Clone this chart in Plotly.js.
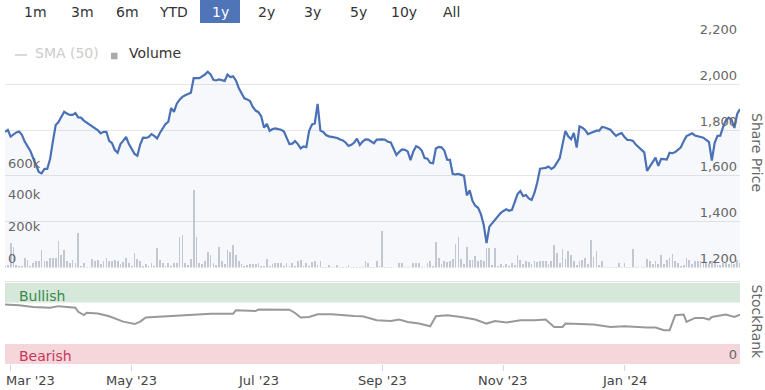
<!DOCTYPE html>
<html>
<head>
<meta charset="utf-8">
<script src="https://cdn.plot.ly/plotly-3.0.1.min.js"></script>
<style>html,body{margin:0;padding:0;background:#fff;}#chart{width:765px;height:390px;}</style>
</head>
<body>
<div id="chart"></div>
<script>
// ---- Data ----
const tradingStart = '2023-02-27';
const tradingEnd = '2024-02-27';

// Daily share price (one value per trading day, Mon-Fri)
const price = [
1793,1801,1772,1781,1790,1794,1780,1750,1731,1709,
1678,1647,1617,1611,1630,1630,1674,1750,1823,1836,
1858,1881,1873,1867,1867,1875,1856,1855,1842,1833,
1826,1818,1810,1799,1786,1793,1793,1753,1743,1713,
1701,1739,1754,1770,1739,1718,1696,1688,1737,1767,
1766,1770,1783,1775,1764,1788,1810,1827,1837,1897,
1880,1916,1934,1946,1953,1960,1964,2028,2028,2028,
2036,2044,2056,2045,2021,2018,2023,2020,2016,2044,
2033,2036,2018,1985,1961,1940,1935,1928,1902,1886,
1879,1860,1811,1827,1797,1805,1808,1806,1802,1795,
1770,1739,1741,1752,1739,1720,1729,1726,1797,1825,
1830,1915,1798,1792,1779,1773,1771,1769,1766,1759,
1755,1745,1731,1736,1746,1763,1735,1750,1760,1759,
1750,1743,1759,1760,1760,1758,1749,1746,1722,1691,
1705,1716,1714,1707,1669,1707,1730,1724,1711,1678,
1675,1657,1655,1720,1727,1725,1711,1671,1670,1608,
1606,1608,1604,1600,1514,1537,1490,1469,1460,1432,
1384,1305,1377,1393,1410,1426,1437,1446,1453,1447,
1451,1485,1520,1533,1511,1516,1501,1494,1525,1571,
1631,1633,1635,1641,1630,1638,1656,1678,1739,1797,
1773,1761,1788,1724,1817,1811,1801,1783,1788,1793,
1798,1798,1814,1812,1808,1802,1788,1775,1783,1787,
1770,1757,1757,1753,1737,1725,1716,1703,1622,1643,
1663,1680,1644,1674,1673,1671,1701,1699,1704,1714,
1725,1752,1774,1780,1786,1777,1773,1770,1767,1757,
1748,1667,1745,1775,1776,1814,1843,1855,1846,1810,
1871,1893
];

// Daily volume, thousands of shares
const volume = [
10,15,154,126,17,8,8,59,48,8,
27,38,42,111,38,38,63,59,63,168,
80,111,38,27,48,27,217,10,27,5,
5,55,38,48,20,42,59,38,42,48,
38,20,34,63,27,10,90,55,38,10,
21,8,27,8,122,48,27,8,27,10,
27,27,189,202,27,15,55,490,189,27,
20,42,97,80,27,15,126,38,20,111,
97,143,76,38,21,10,17,21,21,21,
27,8,8,55,8,21,27,27,27,10,
27,10,27,10,42,48,10,27,10,34,
38,15,42,3,3,17,3,3,17,3,
3,3,17,3,3,3,3,3,38,27,
3,3,38,10,231,3,3,3,3,3,
27,27,3,3,3,27,27,27,5,5,
27,38,10,160,63,20,42,34,38,55,
147,189,55,20,126,48,48,70,38,48,
42,122,122,15,122,8,21,8,21,10,
27,15,80,48,20,38,34,20,38,34,
38,38,42,20,38,139,90,30,118,55,
105,80,38,15,38,48,59,20,175,69,
101,15,38,3,3,3,3,3,27,3,
27,3,3,118,3,3,3,3,55,38,
20,38,20,76,20,48,59,84,38,27,
10,15,63,48,20,38,38,38,42,27,
20,38,38,15,15,27,27,20,38,20,
48,30
];

// StockRank (0-100)
const rankDates = ['2023-02-27','2023-03-06','2023-03-13','2023-03-21','2023-03-24','2023-04-03','2023-04-04','2023-04-06','2023-04-07','2023-04-13','2023-04-19','2023-04-25','2023-04-26','2023-05-02','2023-05-04','2023-05-08','2023-05-17','2023-05-26','2023-06-08','2023-06-20','2023-06-21','2023-06-30','2023-07-03','2023-07-18','2023-07-20','2023-07-24','2023-07-27','2023-08-01','2023-08-08','2023-08-18','2023-08-23','2023-08-30','2023-09-06','2023-09-11','2023-09-14','2023-09-20','2023-09-26','2023-09-28','2023-10-04','2023-10-11','2023-10-18','2023-10-24','2023-10-27','2023-11-02','2023-11-09','2023-11-16','2023-11-22','2023-11-27','2023-11-30','2023-12-01','2023-12-08','2023-12-15','2023-12-25','2024-01-01','2024-01-11','2024-01-16','2024-01-19','2024-01-23','2024-01-25','2024-01-30','2024-01-31','2024-02-05','2024-02-08','2024-02-12','2024-02-13','2024-02-20','2024-02-23','2024-02-27'];
const rankValues = [73,72,70,69,71,69,64,60,63,62,58.5,54,52,49,52,57,58.5,60.6,61.8,61.8,66,65,67,66.7,62.6,57,57.7,61,61,59,58.5,53.7,52.8,54.5,51.6,49.6,46.3,58.5,59.8,57.7,54.5,49.6,52.8,50.9,53.7,53.7,54.5,45.5,45.5,49.6,48.8,48.4,45.5,46.3,44.8,44.8,41.5,41.5,59.8,60.6,51.6,56.5,56.5,54.5,57.7,60.6,57.7,60.6];

const xTickDates = ['2023-03-01','2023-05-01','2023-07-01','2023-09-01','2023-11-01','2024-01-01'];
const xTickLabels = ["Mar '23","May '23","Jul '23","Sep '23","Nov '23","Jan '24"];
const priceTicks = [1200,1400,1600,1800,2000,2200];
const priceTickLabels = ['1,200','1,400','1,600','1,800','2,000','2,200'];
const volumeTicks = [0,200,400,600];
const volumeTickLabels = ['0','200k','400k','600k'];
const rangeButtons = ['1m','3m','6m','YTD','1y','2y','3y','5y','10y','All'];
const activeButton = '1y';
const legendItems = ['SMA (50)','Volume'];

// ---- trading calendar (Mon-Fri) ----
function tradingDays(start, end) {
  const out = [];
  const d = new Date(start + 'T00:00:00Z');
  const e = new Date(end + 'T00:00:00Z');
  while (d <= e) {
    const w = d.getUTCDay();
    if (w !== 0 && w !== 6) out.push(d.toISOString().slice(0, 10));
    d.setUTCDate(d.getUTCDate() + 1);
  }
  return out;
}
const dates = tradingDays(tradingStart, tradingEnd);
if (dates.length !== price.length || dates.length !== volume.length) {
  console.warn('length mismatch', dates.length, price.length, volume.length);
}

// ---- layout helpers (pixel -> paper) ----
const W = 765, H = 390, ML = 5, MR = 25;
const px = v => (v - ML) / (W - ML - MR);
const py = v => 1 - v / H;
const FONT = 'DejaVu Sans';

const traces = [
  {
    type: 'bar', x: dates, y: volume, xaxis: 'x', yaxis: 'y',
    marker: { color: '#c9ccd3', line: { width: 0 } },
    width: 0.62 * 86400000, name: legendItems[1], hoverinfo: 'x+y'
  },
  {
    type: 'scatter', mode: 'lines', x: dates, y: price, xaxis: 'x', yaxis: 'y2',
    line: { color: '#4a70b5', width: 2.2 },
    fill: 'tozeroy', fillcolor: 'rgba(74,112,181,0.05)', name: 'Share Price'
  },
  {
    type: 'scatter', mode: 'lines', x: rankDates, y: rankValues, xaxis: 'x', yaxis: 'y3',
    line: { color: '#999999', width: 2 }, name: 'StockRank'
  }
];

const annotations = [];
const btnX = [35, 82, 127, 173, 220, 266, 312, 358, 404, 451];
rangeButtons.forEach((b, i) => {
  annotations.push({
    xref: 'paper', yref: 'paper', x: px(btnX[i]), y: py(11.5),
    xanchor: 'center', yanchor: 'middle', showarrow: false, text: b,
    font: { family: FONT, size: 14, color: b === activeButton ? '#ffffff' : '#333333' }
  });
});
annotations.push({ xref: 'paper', yref: 'paper', x: px(33), y: py(53.5), xanchor: 'left', yanchor: 'middle', showarrow: false, text: legendItems[0], font: { family: FONT, size: 14, color: '#cccccc' } });
annotations.push({ xref: 'paper', yref: 'paper', x: px(127), y: py(53.5), xanchor: 'left', yanchor: 'middle', showarrow: false, text: legendItems[1], font: { family: FONT, size: 14, color: '#333333' } });
annotations.push({ xref: 'paper', yref: 'paper', x: px(757), y: py(152), xanchor: 'center', yanchor: 'middle', showarrow: false, text: 'Share Price', textangle: 90, font: { family: FONT, size: 14, color: '#666666' } });
annotations.push({ xref: 'paper', yref: 'paper', x: px(757), y: py(321.5), xanchor: 'center', yanchor: 'middle', showarrow: false, text: 'StockRank', textangle: 90, font: { family: FONT, size: 14, color: '#666666' } });
annotations.push({ xref: 'paper', yref: 'paper', x: px(17), y: py(296), xanchor: 'left', yanchor: 'middle', showarrow: false, text: 'Bullish', font: { family: FONT, size: 14, color: '#3b8a4c' } });
annotations.push({ xref: 'paper', yref: 'paper', x: px(17), y: py(356), xanchor: 'left', yanchor: 'middle', showarrow: false, text: 'Bearish', font: { family: FONT, size: 14, color: '#c8375a' } });
xTickDates.forEach((d, i) => {
  annotations.push({
    xref: 'x', yref: 'paper', x: d, y: py(380), xanchor: i === 0 ? 'left' : 'center', yanchor: 'middle',
    xshift: i === 0 ? -7 : 0, showarrow: false, text: xTickLabels[i],
    font: { family: FONT, size: 13, color: '#444444' }
  });
});

const shapes = [
  { type: 'rect', xref: 'paper', yref: 'paper', x0: px(200), x1: px(240), y0: py(23), y1: py(0), fillcolor: '#4f74b8', line: { width: 0 }, layer: 'below' },
  { type: 'line', xref: 'paper', yref: 'paper', x0: px(15), x1: px(27), y0: py(55), y1: py(55), line: { color: '#cccccc', width: 1.5 } },
  { type: 'rect', xref: 'paper', yref: 'paper', x0: px(111), x1: px(117.5), y0: py(59.3), y1: py(52.7), fillcolor: '#a8aab0', line: { width: 0 } },
  { type: 'rect', xref: 'paper', yref: 'y3', x0: 0, x1: 1, y0: 75.5, y1: 100, fillcolor: '#d5e8da', line: { width: 0 }, layer: 'below' },
  { type: 'rect', xref: 'paper', yref: 'y3', x0: 0, x1: 1, y0: 0, y1: 24.5, fillcolor: '#f4d6db', line: { width: 0 }, layer: 'below' },
  { type: 'line', xref: 'paper', yref: 'paper', x0: 0, x1: 1, y0: py(281.5), y1: py(281.5), line: { color: '#e6e6e6', width: 1 } }
];

const layout = {
  width: W, height: H,
  margin: { l: ML, r: MR, t: 0, b: 0, autoexpand: false },
  paper_bgcolor: '#ffffff', plot_bgcolor: 'rgba(0,0,0,0)',
  font: { family: FONT, size: 13, color: '#666666' },
  showlegend: false, bargap: 0,
  xaxis: {
    type: 'date', range: [tradingStart, tradingEnd], anchor: 'y3',
    rangebreaks: [{ bounds: ['sat', 'mon'] }],
    tickmode: 'array', tickvals: xTickDates, showticklabels: false,
    ticks: 'outside', ticklen: 6, tickcolor: '#ccd6eb', tickwidth: 1,
    showgrid: false, zeroline: false, showline: false, fixedrange: true
  },
  yaxis: {
    domain: [py(267.5), py(38.5)], range: [0, 1442], side: 'left',
    tickmode: 'array', tickvals: volumeTicks, ticktext: volumeTickLabels,
    ticklabelposition: 'inside top', ticklabeloverflow: 'allow',
    showgrid: false, zeroline: false, showline: false,
    tickfont: { family: FONT, size: 13, color: '#666666' }, fixedrange: true
  },
  yaxis2: {
    overlaying: 'y', side: 'right', range: [1198, 2202],
    tickmode: 'array', tickvals: priceTicks, ticktext: priceTickLabels,
    ticklabelposition: 'inside top', ticklabeloverflow: 'allow',
    showgrid: true, gridcolor: '#e6e6e6', gridwidth: 1,
    zeroline: false, showline: false,
    tickfont: { family: FONT, size: 13, color: '#666666' }, fixedrange: true
  },
  yaxis3: {
    domain: [py(364), py(282.5)], range: [0, 100], side: 'right',
    tickmode: 'array', tickvals: [0], ticktext: ['0'],
    ticklabelposition: 'inside top', ticklabeloverflow: 'allow',
    showgrid: false, zeroline: false, showline: false,
    tickfont: { family: FONT, size: 13, color: '#666666' }, fixedrange: true
  },
  annotations: annotations,
  shapes: shapes
};

Plotly.newPlot('chart', traces, layout, { staticPlot: true, displayModeBar: false });
</script>
</body>
</html>
